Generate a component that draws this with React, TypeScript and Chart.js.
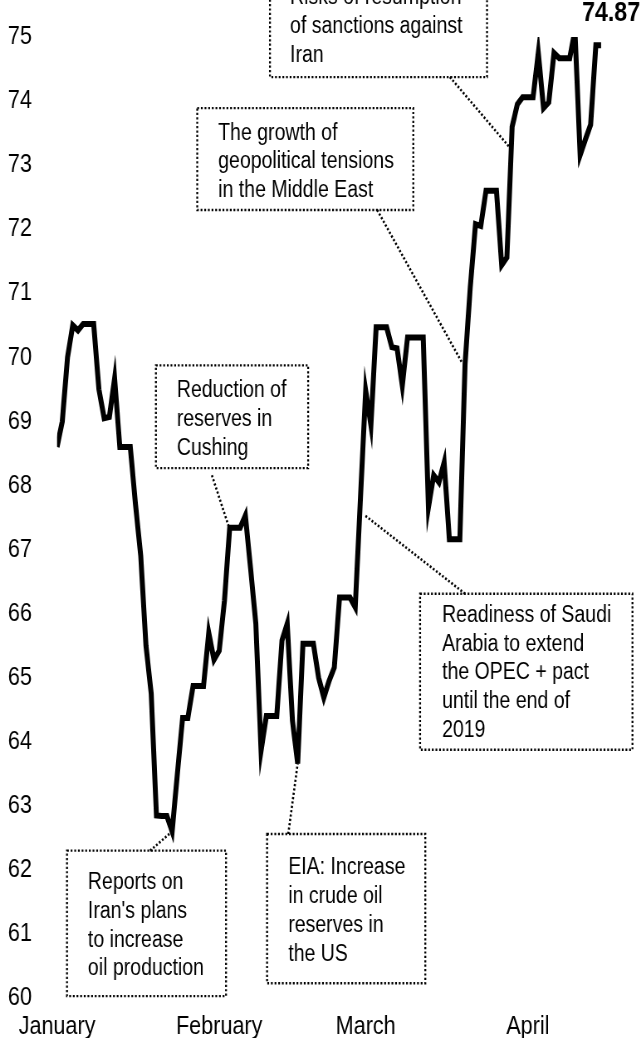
import React, { useEffect, useRef } from "react";
import { Chart, registerables } from "chart.js";

Chart.register(...registerables);

// Daily price series (day 0 = start of January)
const prices: number[] = [
  68.6, 69.0, 70.0, 70.5, 70.42, 70.52, 70.52, 70.52, 69.5, 69.05,
  69.07, 69.67, 68.6, 68.6, 68.6, 67.7, 66.9, 65.5, 64.75, 62.85,
  62.84, 62.84, 62.6, 63.5, 64.37, 64.37, 64.87, 64.87, 64.87, 65.7,
  65.28, 65.42, 66.2, 67.34, 67.34, 67.34, 67.53, 66.7, 65.84, 63.86,
  64.4, 64.4, 64.4, 65.58, 65.84, 64.33, 63.66, 65.53, 65.53, 65.53,
  65.0, 64.69, 64.95, 65.16, 66.25, 66.25, 66.25, 66.1, 67.8, 69.48,
  68.94, 70.47, 70.47, 70.47, 70.16, 70.14, 69.56, 70.31, 70.31, 70.31,
  70.31, 67.66, 68.16, 68.05, 68.36, 67.16, 67.16, 67.16, 69.9, 71.1,
  72.08, 72.05, 72.6, 72.6, 72.6, 71.44, 71.56, 73.6, 73.95, 74.06,
  74.06, 74.06, 74.75, 73.89, 73.98, 74.75, 74.67, 74.67, 74.67, 75.1,
  73.16, 73.4, 73.63, 74.87, 74.87,
];

const monthNames: string[] = ["January", "February", "March", "April"];
const monthStartDays: number[] = [0, 31, 59, 90];
const yTicks: number[] = [60, 61, 62, 63, 64, 65, 66, 67, 68, 69, 70, 71, 72, 73, 74, 75];

// Annotation boxes in data coordinates (day, price)
const notes = [
  {
    lines: ["Reports on", "Iran's plans", "to increase", "oil production"],
    box: [1.9, 32.3, 62.3, 60.03],
    text: [5.9, 61.8],
    from: [17.8, 62.3],
    to: [22, 62.6],
  },
  {
    lines: ["EIA: Increase", "in crude oil", "reserves in", "the US"],
    box: [40.15, 70.4, 62.56, 60.23],
    text: [44.2, 62.03],
    from: [44.2, 62.56],
    to: [46, 63.66],
  },
  {
    lines: ["Reduction of", "reserves in", "Cushing"],
    box: [18.9, 48.0, 69.875, 68.27],
    text: [22.9, 69.48],
    from: [29.6, 68.16],
    to: [32.9, 67.34],
  },
  {
    lines: ["Readiness of Saudi", "Arabia to extend", "the OPEC + pact", "until the end of", "2019"],
    box: [69.4, 110, 66.31, 63.875],
    text: [73.6, 65.97],
    from: [78.0, 66.31],
    to: [58.9, 67.53],
  },
  {
    lines: ["The growth of", "geopolitical tensions", "in the Middle East"],
    box: [26.8, 68.1, 73.89, 72.3],
    text: [30.8, 73.5],
    from: [61.2, 72.3],
    to: [77.4, 69.92],
  },
  {
    lines: ["Risks of resumption", "of sanctions against", "Iran"],
    box: [40.7, 82.2, 75.89, 74.375],
    text: [44.55, 75.61],
    from: [75.1, 74.375],
    to: [86.6, 73.27],
  },
];

const FONT = "'Liberation Sans', Arial, sans-serif";
const SQUEEZE = 0.83; // horizontal condensing of the whole picture
const OUT_W = 641;
const OUT_H = 1038;
const IN_W = Math.round(OUT_W / SQUEEZE);

const notesPlugin = {
  id: "notes",
  afterDraw(chart: any) {
    const ctx = chart.ctx as CanvasRenderingContext2D;
    const xs = chart.scales.x;
    const ys = chart.scales.y;
    ctx.save();
    ctx.strokeStyle = "#000";
    ctx.fillStyle = "#000";
    for (const n of notes) {
      const x0 = xs.getPixelForValue(n.box[0]);
      const x1 = xs.getPixelForValue(n.box[1]);
      const y0 = ys.getPixelForValue(n.box[2]);
      const y1 = ys.getPixelForValue(n.box[3]);
      ctx.setLineDash([2.2, 2.2]);
      ctx.lineWidth = 2.3;
      ctx.strokeRect(x0, y0, x1 - x0, y1 - y0);
      ctx.lineWidth = 2.6;
      ctx.beginPath();
      ctx.moveTo(xs.getPixelForValue(n.from[0]), ys.getPixelForValue(n.from[1]));
      ctx.lineTo(xs.getPixelForValue(n.to[0]), ys.getPixelForValue(n.to[1]));
      ctx.stroke();
      ctx.setLineDash([]);
      ctx.font = `23.5px ${FONT}`;
      ctx.textAlign = "left";
      ctx.textBaseline = "middle";
      const tx = xs.getPixelForValue(n.text[0]);
      const ty = ys.getPixelForValue(n.text[1]);
      n.lines.forEach((l, i) => ctx.fillText(l, tx, ty + i * 28.7));
    }
    // last value label
    const li = prices.length - 1;
    const lx = xs.getPixelForValue(li);
    const ly = ys.getPixelForValue(prices[li]);
    ctx.font = `bold 28px ${FONT}`;
    ctx.textAlign = "left";
    ctx.textBaseline = "middle";
    ctx.fillText(prices[li].toFixed(2), lx - 23, ly - 32);
    ctx.restore();
  },
};

export default function App() {
  const ref = useRef<HTMLCanvasElement | null>(null);
  useEffect(() => {
    if (!ref.current) return;
    const chart = new Chart(ref.current, {
      type: "line",
      data: {
        datasets: [
          {
            data: prices.map((v, i) => ({ x: i, y: v })),
            borderColor: "#000",
            borderWidth: 6,
            pointRadius: 0,
            tension: 0,
            borderJoinStyle: "miter",
            borderCapStyle: "butt",
            fill: false,
          },
        ],
      },
      options: {
        animation: false,
        responsive: false,
        maintainAspectRatio: false,
        layout: { padding: { left: 9.6, right: 10.3, top: 37, bottom: 0 } },
        plugins: { legend: { display: false }, tooltip: { enabled: false } },
        scales: {
          x: {
            type: "linear",
            min: 0,
            max: 110,
            grid: { display: false, drawTicks: false },
            border: { display: false },
            afterBuildTicks: (s: any) => {
              s.ticks = monthStartDays.map((v) => ({ value: v }));
            },
            afterFit: (s: any) => {
              s.height = 40;
            },
            ticks: {
              autoSkip: false,
              maxRotation: 0,
              padding: 13,
              color: "#000",
              font: { family: FONT, size: 26 },
              callback: (v: any) => {
                const i = monthStartDays.indexOf(Number(v));
                return i >= 0 ? monthNames[i] : "";
              },
            },
          },
          y: {
            min: 60,
            max: 75,
            grid: { display: false, drawTicks: false },
            border: { display: false },
            afterBuildTicks: (s: any) => {
              s.ticks = yTicks.map((v) => ({ value: v }));
            },
            afterFit: (s: any) => {
              s.width = 59.1;
            },
            ticks: {
              crossAlign: "far",
              color: "#000",
              font: { family: FONT, size: 26 },
            },
          },
        },
      },
      plugins: [notesPlugin],
    } as any);
    return () => chart.destroy();
  }, []);
  return (
    <div style={{ position: "absolute", left: 0, top: 0, width: OUT_W, height: OUT_H, background: "#fff", overflow: "hidden" }}>
      <canvas
        ref={ref}
        width={IN_W}
        height={OUT_H}
        style={{ display: "block", width: OUT_W + "px", height: OUT_H + "px" }}
      />
    </div>
  );
}
